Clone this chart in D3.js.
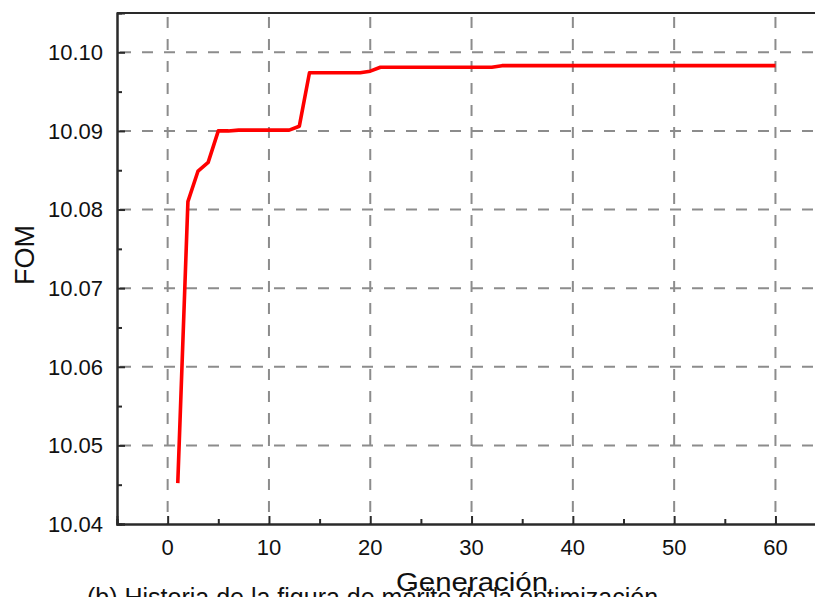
<!DOCTYPE html>
<html>
<head>
<meta charset="utf-8">
<script src="https://cdn.jsdelivr.net/npm/d3@7"></script>
<style>
  html, body { margin: 0; padding: 0; background: #fff; }
  svg { display: block; font-family: "Liberation Sans", Arial, Helvetica, sans-serif; }
</style>
</head>
<body>
<svg id="chart" width="815" height="597"></svg>
<script>
// Data
const generations = [1, 2, 3, 4, 5, 6, 7, 8, 9, 10, 11, 12, 13, 14, 15, 16, 17, 18, 19, 20, 21, 22, 23, 24, 25, 26, 27, 28, 29, 30, 31, 32, 33, 34, 35, 36, 37, 38, 39, 40, 41, 42, 43, 44, 45, 46, 47, 48, 49, 50, 51, 52, 53, 54, 55, 56, 57, 58, 59, 60];
const fomValues = [10.0452, 10.0810, 10.0849, 10.0860, 10.0900, 10.0900, 10.0901, 10.0901, 10.0901, 10.0901, 10.0901, 10.0901, 10.0906, 10.0974,
  10.0974, 10.0974, 10.0974, 10.0974, 10.0974, 10.0976, 10.0981, 10.0981, 10.0981, 10.0981, 10.0981, 10.0981, 10.0981, 10.0981, 10.0981, 10.0981,
  10.0981, 10.0981, 10.0983, 10.0983, 10.0983, 10.0983, 10.0983, 10.0983, 10.0983, 10.0983, 10.0983, 10.0983, 10.0983, 10.0983, 10.0983,
  10.0983, 10.0983, 10.0983, 10.0983, 10.0983, 10.0983, 10.0983, 10.0983, 10.0983, 10.0983, 10.0983, 10.0983, 10.0983, 10.0983, 10.0983];
const xTicks = [0, 10, 20, 30, 40, 50, 60];
const xMinorTicks = [-5, 5, 15, 25, 35, 45, 55, 65];
const yTicks = [10.04, 10.05, 10.06, 10.07, 10.08, 10.09, 10.10];
const yMinorTicks = [10.045, 10.055, 10.065, 10.075, 10.085, 10.095];
const xDomain = [-5, 65];
const yDomain = [10.04, 10.105];
const xLabel = "Generación";
const yLabel = "FOM";
const caption = "(b) Historia de la figura de mérito de la optimización";

const svg = d3.select("#chart");
const mLeft = 117, mTop = 13, mBottom = 524;
const x = d3.scaleLinear().domain(xDomain).range([mLeft, mLeft + 70 * 10.13]);
const y = d3.scaleLinear().domain(yDomain).range([mBottom, mTop]);
const mRight = x(xDomain[1]);

const gridColor = "#8c8c8c";
const axisColor = "#2a2a2a";

// Grid lines
const grid = svg.append("g");
grid.selectAll("line.gx").data(xTicks).enter().append("line")
  .attr("x1", d => x(d)).attr("x2", d => x(d))
  .attr("y1", mTop).attr("y2", mBottom)
  .attr("stroke", gridColor).attr("stroke-width", 2)
  .attr("stroke-dasharray", "11,11").attr("stroke-dashoffset", -4);
grid.selectAll("line.gy").data(yTicks.filter(d => d > yDomain[0])).enter().append("line")
  .attr("x1", mLeft).attr("x2", mRight)
  .attr("y1", d => y(d)).attr("y2", d => y(d))
  .attr("stroke", gridColor).attr("stroke-width", 2)
  .attr("stroke-dasharray", "11,11").attr("stroke-dashoffset", -3);

// Data line
const line = d3.line().x((d, i) => x(generations[i])).y(d => y(d));
svg.append("path").datum(fomValues)
  .attr("d", line)
  .attr("fill", "none")
  .attr("stroke", "#ff0000")
  .attr("stroke-width", 3.6)
  .attr("stroke-linejoin", "round");

// Axes (ticks pointing inward)
const xAxis = d3.axisTop(x).tickValues(xTicks).tickSize(8).tickFormat("");
const gx = svg.append("g").attr("transform", `translate(0,${mBottom})`).call(xAxis);
const xAxisMinor = d3.axisTop(x).tickValues(xMinorTicks).tickSize(5).tickFormat("");
const gxm = svg.append("g").attr("transform", `translate(0,${mBottom})`).call(xAxisMinor);
const yAxis = d3.axisRight(y).tickValues(yTicks).tickSize(8).tickFormat("");
const gy = svg.append("g").attr("transform", `translate(${mLeft},0)`).call(yAxis);
const yAxisMinor = d3.axisRight(y).tickValues(yMinorTicks).tickSize(5).tickFormat("");
const gym = svg.append("g").attr("transform", `translate(${mLeft},0)`).call(yAxisMinor);
[gx, gxm, gy, gym].forEach(g => {
  g.select(".domain").attr("stroke", axisColor).attr("stroke-width", 2);
  g.selectAll(".tick line").attr("stroke", axisColor).attr("stroke-width", 2);
});
// top border
svg.append("line").attr("x1", mLeft).attr("x2", mRight).attr("y1", mTop).attr("y2", mTop)
  .attr("stroke", axisColor).attr("stroke-width", 2);

// Tick labels
svg.append("g").selectAll("text").data(xTicks).enter().append("text")
  .attr("x", d => x(d)).attr("y", 555)
  .attr("text-anchor", "middle")
  .attr("font-size", 22).attr("fill", "#111")
  .text(d => d3.format("d")(d));
svg.append("g").selectAll("text").data(yTicks).enter().append("text")
  .attr("x", 103).attr("y", d => y(d))
  .attr("dy", "0.36em")
  .attr("text-anchor", "end")
  .attr("font-size", 22).attr("fill", "#111")
  .text(d => d3.format(".2f")(d));

// Axis titles
svg.append("text")
  .attr("transform", "translate(34,255) rotate(-90)")
  .attr("text-anchor", "middle")
  .attr("font-size", 27).attr("fill", "#111")
  .text(yLabel);

// Caption (partly cut by the frame edge)
svg.append("text")
  .attr("x", 87).attr("y", 606)
  .attr("font-size", 25).attr("fill", "#111")
  .text(caption);

svg.append("text")
  .attr("x", 396).attr("y", 591)
  .attr("font-size", 26).attr("fill", "#111")
  .attr("textLength", 152).attr("lengthAdjust", "spacingAndGlyphs")
  .text(xLabel);
</script>
</body>
</html>
